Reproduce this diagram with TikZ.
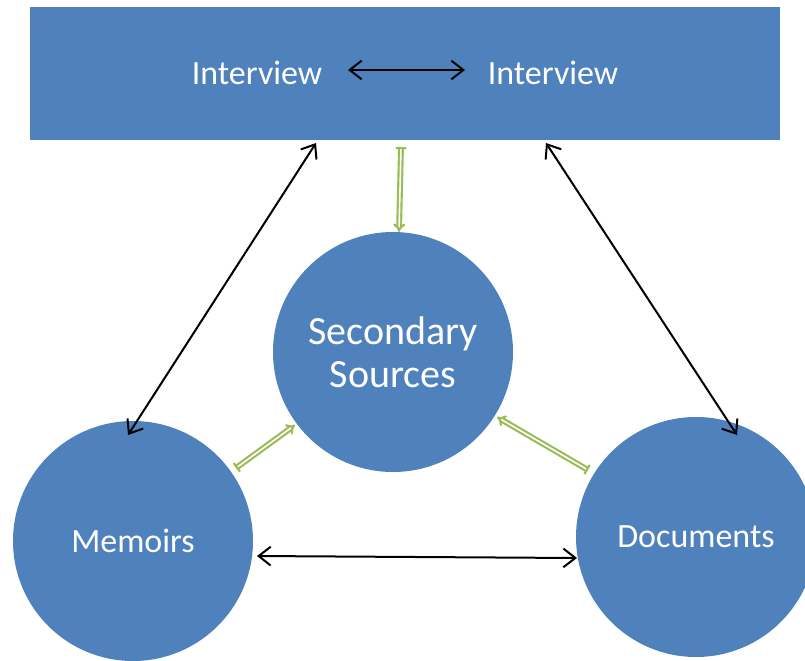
\documentclass[tikz,border=0pt]{standalone}
\usepackage{fontspec}
\setmainfont{Carlito}
\usetikzlibrary{arrows.meta,calc}
\definecolor{boxblue}{HTML}{4F81BD}
\definecolor{leafgreen}{HTML}{9BBB59}
\tikzset{
  bluefill/.style={fill=boxblue, draw=none, text=white},
  source/.style={bluefill, circle, minimum size=180pt, inner sep=0pt, font=\fontsize{25.5}{30}\selectfont},
  tag/.style={text=white, inner sep=0pt, font=\fontsize{25.5}{30}\selectfont},
  link/.style={black, line width=1.5pt, {Straight Barb[length=9pt,width=14pt]}-{Straight Barb[length=9pt,width=14pt]}},
  feed/.style={draw=leafgreen, double=white, line width=1.6pt, double distance=1.2pt,
    {Bar[width=8pt]}-{Implies}}
}
\begin{document}
\begin{tikzpicture}[x=0.75pt, y=-0.75pt]
  \useasboundingbox (0,0) rectangle (805,660);
  \clip (0,0) rectangle (805,660);

  % top band with the two interviews
  \node[bluefill, rectangle, minimum width=562.5pt, minimum height=99.75pt, inner sep=0pt] (box) at (405,73.5) {};
  \node[tag] (iv1) at (257,73) {Interview};
  \node[tag] (iv2) at (553,73) {Interview};

  % the three sources
  \node[source, font=\fontsize{30}{32}\selectfont, align=center] (sec) at (393,352) {Secondary\\Sources};
  \node[source] (mem) at (133,541) {Memoirs};
  \node[source] (doc) at (696,537) {Documents};

  % two-way links
  \draw[link] ($(iv1.center)+(91,-3)$) -- ($(iv2.center)+(-88,-3)$);
  \draw[link] ($(box.center)+(-89,69.5)$) -- ($(mem.center)+(-5,-106)$);
  \draw[link] ($(box.center)+(141,69.5)$) -- ($(doc.center)+(41,-102)$);
  \draw[link] ($(mem.center)+(124,15)$) -- ($(doc.center)+(-119,21)$);

  % feeds into the secondary sources
  \draw[feed] ($(box.center)+(-4,73.5)$) -- ($(sec.center)+(6,-120)$);
  \draw[feed] ($(mem.center)+(103,-73)$) -- ($(sec.center)+(-98,73)$);
  \draw[feed] ($(doc.center)+(-108,-67)$) -- ($(sec.center)+(104,65)$);
\end{tikzpicture}
\end{document}
